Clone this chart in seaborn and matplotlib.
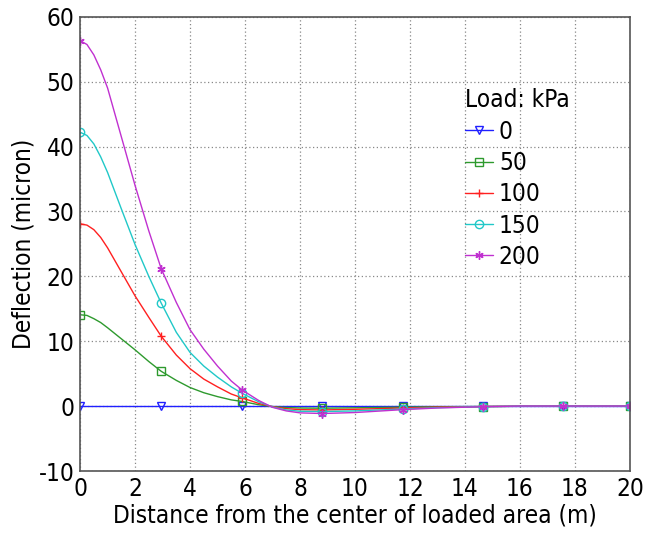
import numpy as np
import pandas as pd
import matplotlib
matplotlib.use("Agg")
import matplotlib.pyplot as plt
import seaborn as sns

# distance from the load centre (m); markers sit on every ~2.9 m sample
distance = [0, 0.25, 0.5, 0.75, 1, 1.5, 2, 2.5, 2.95, 3.5, 4, 4.5, 5, 5.5, 5.9, 6.5, 7, 7.5,
            8, 8.8, 10, 11.75, 13, 14.65, 16, 17.55, 20]
marker_idx = [0, 8, 14, 19, 21, 23, 25, 26]

defl_0 = [0.0] * len(distance)
defl_50 = [14.1, 14.0, 13.5, 12.9, 12.1, 10.4, 8.7, 6.9, 5.4, 4.0, 2.9, 2.1, 1.5, 1.0, 0.75, 0.25,
           -0.03, -0.18, -0.25, -0.28, -0.22, -0.12, -0.06, -0.02, 0.01, 0.01, 0.01]
defl_100 = [28.1, 27.9, 27.2, 26.0, 24.4, 20.7, 17.0, 13.7, 10.8, 7.9, 5.8, 4.2, 3.0, 1.9, 1.3, 0.45,
            -0.05, -0.35, -0.5, -0.55, -0.45, -0.25, -0.12, -0.03, 0.02, 0.03, 0.03]
defl_150 = [42.2, 41.7, 40.4, 38.4, 36.0, 30.4, 24.9, 20.0, 15.9, 11.4, 8.3, 6.2, 4.5, 3.0, 2.0, 0.7,
            -0.1, -0.55, -0.75, -0.8, -0.7, -0.4, -0.2, -0.05, 0.03, 0.04, 0.04]
defl_200 = [56.3, 55.7, 54.1, 51.8, 49.0, 41.5, 34.0, 27.0, 21.2, 16.0, 11.8, 8.8, 6.2, 3.9, 2.5, 0.9,
            -0.15, -0.7, -1.0, -1.1, -0.95, -0.5, -0.25, -0.05, 0.05, 0.05, 0.05]

loads = ["0", "50", "100", "150", "200"]
series = [defl_0, defl_50, defl_100, defl_150, defl_200]
colors = ["#2020ff", "#2e9a2e", "#ff2020", "#20c8c8", "#c030d0"]
markers = ["v", "s", "+", "o", (6, 2, 0)]

sns.set_style("white")
plt.rcParams["font.family"] = ["DejaVu Sans"]
plt.rcParams["font.stretch"] = "condensed"
plt.rcParams["axes.unicode_minus"] = False
plt.rcParams["text.color"] = "black"
plt.rcParams["axes.labelcolor"] = "black"
plt.rcParams["xtick.color"] = "black"
plt.rcParams["ytick.color"] = "black"

fig = plt.figure(figsize=(6.46, 5.35), dpi=100)
ax = fig.add_axes([0.124, 0.119, 0.851, 0.850])

for lab, vals, c, m in zip(loads, series, colors, markers):
    df = pd.DataFrame({"x": distance, "y": vals})
    sns.lineplot(data=df, x="x", y="y", ax=ax, color=c, lw=1.0, marker=m,
                 markevery=marker_idx, markersize=6, markerfacecolor="none",
                 markeredgecolor=c, markeredgewidth=1.0, label=lab)

ax.set_xlim(0, 20)
ax.set_ylim(-10, 60)
ax.set_xticks(np.arange(0, 21, 2))
ax.set_yticks(np.arange(-10, 61, 10))
ax.grid(True, color="#888888", linestyle=(0, (1, 2)), linewidth=0.9)
ax.tick_params(labelsize=17.5, length=0, pad=4)
ax.set_xlabel("Distance from the center of loaded area (m)", fontsize=17.5, labelpad=2)
ax.set_ylabel("Deflection (micron)", fontsize=17.5, labelpad=2)
for s in ax.spines.values():
    s.set_color("#555555")
    s.set_linewidth(1.2)

leg = ax.legend(title="Load: kPa", loc="upper left", bbox_to_anchor=(0.66, 0.89),
                frameon=False, fontsize=17.5, title_fontsize=17.5, handlelength=1.15,
                handletextpad=0.25, labelspacing=0.3, borderpad=0.4)
leg._legend_box.align = "left"

fig.savefig("out.png", dpi=100)
